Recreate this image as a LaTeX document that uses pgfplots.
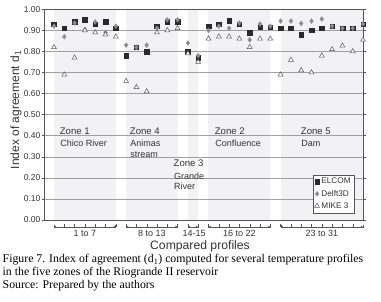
\documentclass[border=0pt]{standalone}
\usepackage{fontspec}
\setmainfont{Liberation Serif}
\setsansfont{Liberation Sans}
\usepackage{pgfplots}
\usepackage{pgfplotstable}
\pgfplotsset{compat=1.18}
\usetikzlibrary{arrows.meta}
\definecolor{elc}{HTML}{2A2A2A}
\definecolor{dlf}{HTML}{8C8C8C}
\definecolor{mk}{HTML}{555555}
\definecolor{band}{HTML}{F2F2F4}
\definecolor{gridc}{HTML}{A0A0A0}
\definecolor{txt}{HTML}{333333}
\pgfplotstableread{
p e d m
1 0.93 0.92 0.82
2 0.91 0.87 0.69
3 0.94 0.935 0.77
4 0.95 0.905 0.90
5 0.93 0.94 0.89
6 0.94 0.89 0.88
7 0.91 0.92 0.87
8 0.78 0.83 0.66
9 0.82 0.82 0.63
10 0.80 0.83 0.61
11 0.92 0.91 0.89
12 0.94 0.95 0.90
13 0.94 0.95 0.91
14 0.80 0.84 0.79
15 0.77 0.78 0.75
16 0.92 0.90 0.86
17 0.93 0.92 0.87
18 0.945 0.91 0.87
19 0.93 0.935 0.86
20 0.89 0.855 0.82
21 0.915 0.93 0.86
22 0.915 0.92 0.86
23 0.91 0.944 0.69
24 0.91 0.944 0.76
25 0.88 0.933 0.71
26 0.90 0.944 0.70
27 0.91 0.954 0.78
28 0.92 0.92 0.81
29 0.91 0.91 0.827
30 0.91 0.91 0.80
31 0.93 0.93 0.855
}\data
\newcommand{\tf}[1]{\fontsize{#1}{#1}\selectfont\sffamily}
\tikzset{rng/.style={draw=mk, line width=0.45bp, {Bar[width=3bp]Stealth[length=2bp,width=2.2bp]}-{Stealth[length=2bp,width=2.2bp]Bar[width=3bp]}},
  rlab/.style={text=txt, font=\tf{9bp}, inner sep=0pt},
  capt/.style={anchor=base west, inner sep=0pt, font=\fontsize{11.8bp}{11.8bp}\selectfont}}
\begin{document}
\begin{tikzpicture}
\begin{axis}[
  at={(44bp,82bp)}, anchor=south west,
  scale only axis, width=319bp, height=210.7bp,
  set layers,
  clip=false,
  xmin=0.03, xmax=31, ymin=0, ymax=1,
  xtick=\empty,
  ytick={0,0.1,0.2,0.3,0.4,0.5,0.6,0.7,0.8,0.9,1.0},
  /pgf/number format/assume math mode=true,
  yticklabel style={font=\tf{8.5bp}, text=txt, inner sep=1bp, /pgf/number format/.cd, fixed, fixed zerofill, precision=2},
  tick align=outside, major tick length=2.5bp,
  tick style={draw=mk, line width=0.5bp},
  ymajorgrids,
  grid style={draw=gridc, line width=0.5bp},
  axis line style={draw=mk, line width=0.7bp},
  legend style={at={(0.972,0.033)}, anchor=south east, draw=mk, line width=0.5bp,
    font=\tf{8.2bp}, text=txt, inner sep=1.2bp, row sep=0.8bp, cells={anchor=west}},
  legend cell align=left,
]
\addplot[fill=band, draw=none, forget plot, on layer=axis background] coordinates {(1,0) (1,1) (7,1) (7,0)} -- cycle;
\addplot[fill=band, draw=none, forget plot, on layer=axis background] coordinates {(8,0) (8,1) (13,1) (13,0)} -- cycle;
\addplot[fill=band, draw=none, forget plot, on layer=axis background] coordinates {(14,0) (14,1) (15,1) (15,0)} -- cycle;
\addplot[fill=band, draw=none, forget plot, on layer=axis background] coordinates {(16,0) (16,1) (22,1) (22,0)} -- cycle;
\addplot[fill=band, draw=none, forget plot, on layer=axis background] coordinates {(23,0) (23,1) (31,1) (31,0)} -- cycle;

\addplot[only marks, mark=square*, mark size=2.3bp, mark options={fill=elc, draw=elc}] table[x=p,y=e]{\data};
\addplot[only marks, mark=diamond*, mark size=2.4bp, mark options={fill=dlf, draw=dlf}] table[x=p,y=d]{\data};
\addplot[only marks, mark=triangle*, mark size=2.8bp, mark options={fill=white, draw=mk, line width=0.5bp}] table[x=p,y=m]{\data};
\legend{ELCOM, Delft3D, MIKE 3}

% zone labels
\node[anchor=west, text=txt, font=\tf{9.6bp}, inner sep=0pt] at (axis cs:1.55,0.422) {Zone 1};
\node[anchor=west, text=txt, font=\tf{9bp}, inner sep=0pt] at (axis cs:1.6,0.365) {Chico River};
\node[anchor=west, text=txt, font=\tf{9.6bp}, inner sep=0pt] at (axis cs:8.35,0.422) {Zone 4};
\node[anchor=west, text=txt, font=\tf{9bp}, inner sep=0pt] at (axis cs:8.4,0.365) {Animas};
\node[anchor=west, text=txt, font=\tf{9bp}, inner sep=0pt] at (axis cs:8.4,0.308) {stream};
\node[anchor=west, text=txt, font=\tf{9.6bp}, inner sep=0pt] at (axis cs:12.6,0.27) {Zone 3};
\node[anchor=west, text=txt, font=\tf{9bp}, inner sep=0pt] at (axis cs:12.65,0.209) {Grande};
\node[anchor=west, text=txt, font=\tf{9bp}, inner sep=0pt] at (axis cs:12.65,0.161) {River};
\node[anchor=west, text=txt, font=\tf{9.6bp}, inner sep=0pt] at (axis cs:16.6,0.422) {Zone 2};
\node[anchor=west, text=txt, font=\tf{9bp}, inner sep=0pt] at (axis cs:16.65,0.365) {Confluence};
\node[anchor=west, text=txt, font=\tf{9.6bp}, inner sep=0pt] at (axis cs:24.95,0.422) {Zone 5};
\node[anchor=west, text=txt, font=\tf{9bp}, inner sep=0pt] at (axis cs:25.0,0.365) {Dam};

% ranges
\draw[rng] (axis cs:1,-0.032) -- (axis cs:7,-0.032);
\draw[rng] (axis cs:8,-0.032) -- (axis cs:13,-0.032);
\draw[rng] (axis cs:14,-0.032) -- (axis cs:15,-0.032);
\draw[rng] (axis cs:16,-0.032) -- (axis cs:22,-0.032);
\draw[rng] (axis cs:23,-0.032) -- (axis cs:31,-0.032);
\node[rlab] at (axis cs:4,-0.064) {1 to 7};
\node[rlab] at (axis cs:10.5,-0.064) {8 to 13};
\node[rlab] at (axis cs:14.6,-0.064) {14-15};
\node[rlab] at (axis cs:19,-0.064) {16 to 22};
\node[rlab] at (axis cs:27,-0.064) {23 to 31};
\pgfplotsinvokeforeach{2,...,30}{
  \draw[draw=mk, line width=0.35bp] (axis cs:#1,-0.021) -- (axis cs:#1,-0.032);
}
\end{axis}
\node[rotate=90, text=txt, font=\tf{12bp}, inner sep=0pt] at (16bp,192bp) {Index of agreement d\textsubscript{1}};
\node[text=txt, font=\tf{12.2bp}, inner sep=0pt] at (200bp,55.5bp) {Compared profiles};
\node[capt] at (2.5bp,39.5bp) {Figure 7. Index of agreement (d\textsubscript{1}) computed for several temperature profiles};
\node[capt] at (2.5bp,26.3bp) {in the five zones of the Riogrande II reservoir};
\node[capt] at (2.5bp,13.1bp) {Source: Prepared by the authors};
\path (0,0) rectangle (381bp,302bp);
\end{tikzpicture}
\end{document}
